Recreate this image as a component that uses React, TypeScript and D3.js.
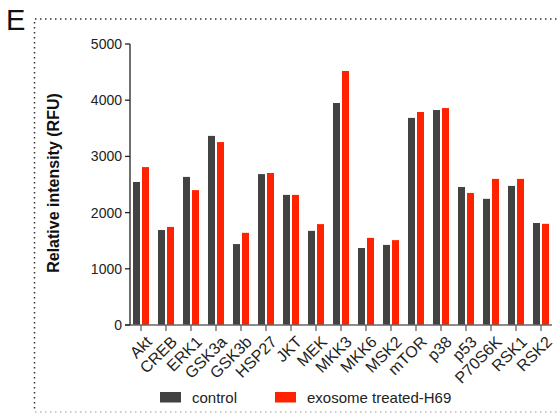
import React from "react";
import * as d3 from "d3";

const categories = ["Akt","CREB","ERK1","GSK3a","GSK3b","HSP27","JKT","MEK","MKK3","MKK6","MSK2","mTOR","p38","p53","P70S6K","RSK1","RSK2"];
const controlValues = [2545,1690,2635,3365,1440,2685,2315,1675,3950,1370,1425,3685,3825,2455,2245,2475,1815];
const exosomeValues = [2810,1745,2400,3255,1640,2705,2315,1795,4520,1550,1510,3790,3860,2350,2600,2600,1800];
const seriesNames = ["control","exosome treated-H69"];
const yTicks = [0,1000,2000,3000,4000,5000];

const W = 558, H = 414;
const FONT = "'Liberation Sans', Arial, Helvetica, sans-serif";
const COLORS = ["#424242", "#ff2200"];

export default function App() {
  const x = d3.scaleBand<string>().domain(categories).range([128.5, 553.5]).paddingInner(0).paddingOuter(0);
  const xs = d3.scaleBand<string>().domain(seriesNames).range([-8, 8]).paddingInner(2 / 9).paddingOuter(0);
  const y = d3.scaleLinear().domain([0, 5000]).range([325, 44]);
  const series = [controlValues, exosomeValues];

  return (
    <svg width={W} height={H} style={{ position: "absolute", left: 0, top: 0, background: "#fff" }} fontFamily={FONT}>
      {/* dotted frame */}
      <line x1={35} x2={558} y1={19} y2={19} stroke="#333" strokeWidth={1.5} strokeDasharray="1.5 3.5" />
      <line x1={34.5} x2={34.5} y1={22} y2={412} stroke="#333" strokeWidth={1.5} strokeDasharray="1.5 3.5" />
      <line x1={35} x2={558} y1={412} y2={412} stroke="#999" strokeWidth={1} strokeDasharray="1.5 3.5" />
      <text x={6} y={30} fontSize={29} fill="#111">E</text>

      {/* bars */}
      {categories.map((c, i) => (
        <g key={c}>
          {series.map((vals, s) => (
            <rect key={s}
              x={(x(c) as number) + x.bandwidth() / 2 + (xs(seriesNames[s]) as number)}
              y={y(vals[i])}
              width={xs.bandwidth()}
              height={y(0) - y(vals[i])}
              fill={COLORS[s]} />
          ))}
        </g>
      ))}

      {/* x axis */}
      <line x1={125} x2={552} y1={325} y2={325} stroke="#666" strokeWidth={1.3} />
      {categories.map((c) => {
        const cx = (x(c) as number) + x.bandwidth() / 2;
        return (
          <g key={c}>
            <line x1={cx} x2={cx} y1={325} y2={331} stroke="#666" strokeWidth={1.3} />
            <text transform={`translate(${cx + 4},${335}) rotate(-45)`} textAnchor="end" dy="0.7em" fontSize={16} fill="#222">{c}</text>
          </g>
        );
      })}

      {/* y axis */}
      <line x1={130} x2={130} y1={y(5000)} y2={325} stroke="#222" strokeWidth={1.3} />
      {yTicks.map((t) => (
        <g key={t}>
          <line x1={125} x2={130} y1={y(t)} y2={y(t)} stroke="#222" strokeWidth={1.3} />
          <text x={122} y={y(t)} dy="0.35em" textAnchor="end" fontSize={14} fill="#222">{t}</text>
        </g>
      ))}
      <text transform={`translate(59,${183}) rotate(-90)`} textAnchor="middle" fontSize={16} fontWeight="bold" fill="#111">Relative intensity (RFU)</text>

      {/* legend */}
      {seriesNames.map((n, s) => {
        const lx = s === 0 ? 160 : 275;
        return (
          <g key={n}>
            <rect x={lx} y={392} width={21} height={10.5} fill={COLORS[s]} />
            <text x={lx + 32} y={402.5} fontSize={15} fill="#222">{n}</text>
          </g>
        );
      })}
    </svg>
  );
}
